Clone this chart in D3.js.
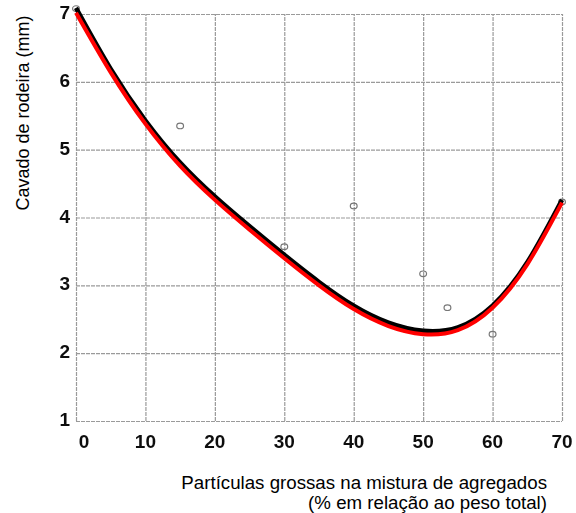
<!DOCTYPE html>
<html>
<head>
<meta charset="utf-8">
<script src="https://cdn.jsdelivr.net/npm/d3@7"></script>
<style>
  html, body { margin: 0; padding: 0; background: #fff; }
  svg { display: block; }
</style>
</head>
<body>
<svg id="chart" width="576" height="513"></svg>
<script>
// Coarse-aggregate share (%) and rut depth (mm)
const xTickValues = [0, 10, 20, 30, 40, 50, 60, 70];
const yTickValues = [1, 2, 3, 4, 5, 6, 7];

// Measured samples
const sampleX = [0, 15, 30, 40, 50, 53.5, 60, 70];
const sampleY = [7.08, 5.35, 3.57, 4.17, 3.17, 2.67, 2.28, 4.23];

// Fitted trend (printed black curve) and its red trace
const fitX = [0, 5, 10, 15, 20, 25, 30, 35, 40, 45, 50, 55, 60, 65, 70];
const fitBlack = [7.09, 6.19, 5.43, 4.81, 4.31, 3.87, 3.45, 3.05, 2.70, 2.45, 2.33, 2.38, 2.70, 3.34, 4.26];
const fitRed = [7.02, 6.14, 5.38, 4.76, 4.26, 3.82, 3.40, 3.00, 2.65, 2.40, 2.28, 2.34, 2.67, 3.31, 4.22];

const yTitle = "Cavado de rodeira (mm)";
const xTitleLines = ["Partículas grossas na mistura de agregados", "(% em relação ao peso total)"];

const svg = d3.select("#chart");
const plotLeft = 76, plotRight = 562, plotTop = 14, plotBottom = 421;

const x = d3.scaleLinear().domain([0, 70]).range([plotLeft, plotRight]);
const y = d3.scaleLinear().domain([1, 7]).range([plotBottom, plotTop]);

const defs = svg.append("defs");
defs.append("filter").attr("id", "soft")
  .append("feGaussianBlur").attr("stdDeviation", 0.45);

const plot = svg.append("g").attr("filter", "url(#soft)");

// Grid (vertical lines come from the bottom axis, horizontal from the left axis)
const gx = plot.append("g")
  .attr("transform", `translate(0,${plotBottom})`)
  .call(d3.axisBottom(x).tickValues(xTickValues).tickSize(-(plotBottom - plotTop)).tickFormat(""));
const gy = plot.append("g")
  .attr("transform", `translate(${plotLeft},0)`)
  .call(d3.axisLeft(y).tickValues(yTickValues).tickSize(-(plotRight - plotLeft)).tickFormat(""));
[gx, gy].forEach(g => {
  g.select(".domain").remove();
  g.selectAll(".tick line")
    .attr("stroke", "#9a9a9a")
    .attr("stroke-width", 1.2)
    .attr("stroke-dasharray", "4 1");
});

// Tick labels
const tickFont = "'Liberation Sans', Arial, Helvetica, sans-serif";
plot.append("g").selectAll("text")
  .data(xTickValues).join("text")
  .attr("x", d => x(d) + (d === 0 ? 8 : 0))
  .attr("y", 448)
  .attr("text-anchor", "middle")
  .attr("font-family", tickFont)
  .attr("font-weight", "bold")
  .attr("font-size", 19)
  .attr("fill", "#111")
  .text(d => d);
plot.append("g").selectAll("text")
  .data(yTickValues).join("text")
  .attr("x", 70)
  .attr("y", d => y(d) + 5)
  .attr("text-anchor", "end")
  .attr("font-family", tickFont)
  .attr("font-weight", "bold")
  .attr("font-size", 19)
  .attr("fill", "#111")
  .text(d => d);

// Sample markers
plot.append("g").selectAll("ellipse")
  .data(sampleX.map((v, i) => [v, sampleY[i]])).join("ellipse")
  .attr("cx", d => x(d[0]))
  .attr("cy", d => y(d[1]))
  .attr("rx", 3.4)
  .attr("ry", 2.8)
  .attr("fill", "none")
  .attr("stroke", "#777")
  .attr("stroke-width", 1.2);

const line = d3.line().curve(d3.curveNatural);

plot.append("path")
  .attr("d", line(fitX.map((v, i) => [x(v), y(fitBlack[i])])))
  .attr("fill", "none")
  .attr("stroke", "#000")
  .attr("stroke-width", 4.5);

svg.append("path")
  .attr("d", line(fitX.map((v, i) => [x(v), y(fitRed[i])])))
  .attr("fill", "none")
  .attr("stroke", "#ff0000")
  .attr("stroke-width", 4)
  .attr("stroke-linecap", "butt");

// Axis titles
const titleFont = "'Liberation Sans', Arial, Helvetica, sans-serif";
svg.append("text")
  .attr("transform", `translate(29,113) rotate(-90)`)
  .attr("text-anchor", "middle")
  .attr("font-family", titleFont)
  .attr("font-size", 18)
  .attr("fill", "#000")
  .text(yTitle);

svg.append("g").selectAll("text")
  .data(xTitleLines).join("text")
  .attr("x", 547)
  .attr("y", (d, i) => 489 + i * 20)
  .attr("text-anchor", "end")
  .attr("font-family", titleFont)
  .attr("font-size", 18.7)
  .attr("fill", "#000")
  .text(d => d);
</script>
</body>
</html>
